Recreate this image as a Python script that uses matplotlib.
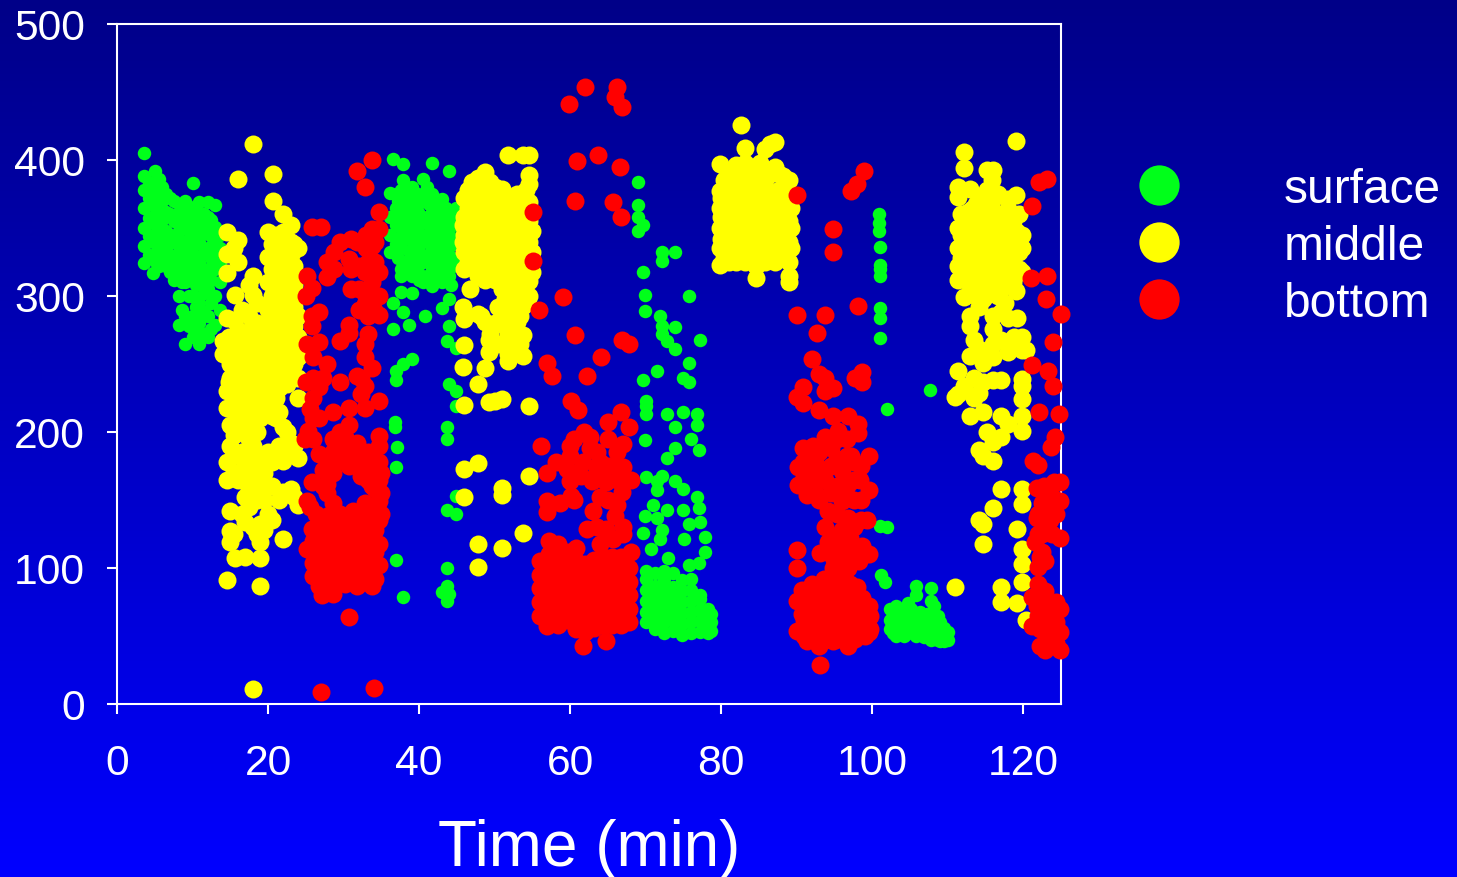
"""Fish depth over time, replotted from the slide."""

import numpy as np
import matplotlib
matplotlib.use("Agg")
import matplotlib.pyplot as plt
from matplotlib.lines import Line2D

plt.rcParams["font.family"] = ["Liberation Sans", "DejaVu Sans"]

# every row is (minute, [depths read at that minute])
surface_early = [
    (3.6, [324, 337, 350, 365, 378, 388, 405]), (4.8, [317, 330, 345, 358, 370, 380]),
    (5, [392]), (5.6, [322, 335, 350, 365, 386]), (6.5, [322, 335, 348, 362, 375]),
    (7.5, [312, 326, 340, 355, 370]), (8.2, [279, 300, 318, 332, 348, 362]),
    (9, [265, 285, 310, 325, 340, 355, 370]), (10, [270, 285, 300, 315, 330, 345, 360, 383]),
    (10.9, [265, 280, 295, 310, 325, 340, 355, 369]), (12, [270, 285, 305, 320, 335, 350, 358, 369]),
    (13, [279, 300, 320, 330, 340, 351, 367]),
    (4.2, [330, 344, 357, 372, 384]), (5.2, [325, 338, 352, 364, 376]), (6, [328, 342, 356, 370, 380]),
    (7, [318, 330, 345, 360, 372]), (8.6, [290, 310, 325, 340, 355, 368]), (9.5, [278, 300, 318, 333, 348, 362]),
    (10.5, [272, 292, 308, 322, 338, 352, 366]), (11.5, [272, 288, 302, 318, 332, 346, 360]),
    (12.5, [276, 295, 312, 328, 344, 356]), (13.6, [290, 310, 325, 335, 345]),
]
surface_second = [
    (36.2, [332, 345, 358, 376]), (36.6, [276, 295, 401]), (36.8, [204, 207]), (37, [106, 174, 238, 245]),
    (37.1, [189]), (37.6, [303, 315, 320, 335, 350, 365, 378]), (37.9, [79, 250, 288, 397, 385]),
    (38.7, [279]), (39, [254, 302, 315, 328, 342, 355, 368, 380]), (40.5, [310, 325, 340, 355, 370, 386]),
    (40.8, [285]), (41.7, [307, 320, 335, 350, 365, 375, 398]), (43, [82, 291, 310, 325, 340, 355, 371]),
    (43.7, [76, 87, 100, 143, 195, 204, 267]), (44, [81, 235, 278, 298, 315, 330, 345, 360, 392]),
    (44.9, [140, 153, 219, 230, 262, 325, 340, 355, 365]),
    (36.9, [338, 352, 365, 375]), (38.2, [325, 342, 358, 372]), (39.8, [318, 335, 348, 362, 375]),
    (41, [315, 330, 345, 358, 372, 380]), (42.4, [312, 328, 342, 358, 368]), (43.5, [318, 335, 350, 365]),
    (44.5, [322, 338, 352, 362]), (45.5, [330, 345, 358]),
    (37.2, [328, 343, 358, 370]), (38.6, [318, 333, 349, 364, 376]), (39.4, [322, 336, 349, 362, 374]),
    (40, [312, 330, 345, 358]), (41.3, [310, 325, 340, 352, 368]), (42, [315, 330, 345, 358, 372]),
    (42.8, [318, 332, 348, 362]), (44.2, [308, 322, 338, 352]),
]
surface_third = [
    (69, [348, 358, 367, 384]), (69.7, [126, 238, 318, 352]), (69.9, [138, 194, 289, 301]),
    (70, [167, 213, 219, 223]), (70.7, [114]), (71, [146]), (71.5, [137, 164, 157, 245]),
    (71.9, [121, 285]), (72.2, [128, 168, 272, 278, 326, 332]), (72.8, [143, 181, 213, 267]),
    (73, [107]), (73.9, [164, 188, 204, 261, 277, 332]), (75, [143, 158, 215, 240]),
    (75.1, [121]), (75.8, [102, 132, 237, 251, 300]), (76, [195]), (76.8, [152, 205, 213]),
    (77, [104, 144, 187]), (77.2, [134, 268]), (77.8, [112, 123]),
    (70, [60, 68, 76, 84, 92, 98]), (71.2, [55, 63, 71, 79, 87, 96]), (72.4, [52, 60, 68, 76, 84, 92, 98]),
    (73.6, [54, 62, 70, 78, 86, 96]), (74.8, [51, 59, 67, 75, 83, 91]), (76, [52, 60, 68, 76, 84, 92]),
    (77.2, [53, 61, 69, 77, 80]), (78.2, [52, 58, 64, 70]), (78.7, [54, 60, 66]),
]
surface_fourth = [
    (100.9, [354, 360]), (100.9, [348]), (101, [269, 284, 291, 315, 320, 323, 336]), (101, [131]),
    (102, [130, 217]), (101.2, [95]), (101.7, [90]), (107.7, [231]),
    (102.3, [55, 62, 70]), (103.2, [50, 57, 65, 72]), (104.2, [50, 57, 65]), (104.8, [52, 60, 68, 74]),
    (105.8, [50, 58, 66, 80, 87]), (106.8, [49, 56, 64]), (107.8, [47, 54, 62, 76, 85]),
    (108.7, [47, 54, 65]), (109.5, [46, 50, 56]), (110, [47, 53]),
    (102.8, [52, 60, 68]), (103.7, [54, 62, 69]), (105.2, [53, 61, 70]), (106.3, [52, 60, 68]),
    (107.3, [50, 58, 66]), (108.2, [48, 56, 64, 72]), (109, [46, 52, 60]),
]

middle_first = [
    (14, [257, 267]), (14.6, [91, 165, 178, 218, 230, 284, 317, 331, 347]),
    (15, [119, 127, 142, 190, 205, 240, 250]), (15.6, [301, 107]),
    (16, [165, 210, 222, 235, 248, 262, 275, 325, 341, 386]),
    (17, [108, 134, 152, 178, 200, 212, 225, 240, 255, 270]),
    (18, [11, 130, 165, 190, 205, 218, 232, 246, 260, 278, 301, 315, 412]),
    (19, [87, 107, 119, 132, 160, 175, 210, 225, 240, 255, 270]),
    (20, [140, 185, 220, 235, 250, 265, 280, 290, 310, 329, 347]),
    (20.7, [185, 370, 390]), (21, [210, 225, 240, 255, 270, 285, 300, 315, 330, 345]),
    (22, [121, 156, 179, 204, 245, 260, 275, 290, 305, 320, 335, 347, 360]),
    (23, [158, 192, 258, 272, 285, 300, 315, 330, 340, 352]),
    (24, [146, 181, 225, 240, 255, 270, 285, 300, 315, 335]),
    (14.8, [237, 255, 270]), (15.5, [125, 170, 183, 198, 228, 258, 270, 282, 335]),
    (16.5, [140, 172, 185, 215, 230, 243, 255, 268, 290]),
    (17.5, [145, 158, 172, 185, 195, 208, 220, 232, 248, 262, 285, 308]),
    (18.5, [125, 150, 165, 182, 200, 215, 228, 240, 252, 265, 280, 295]),
    (19.5, [128, 150, 170, 182, 215, 230, 245, 260, 275]),
    (20.5, [135, 160, 178, 212, 228, 242, 258, 272, 300, 320, 338]),
    (21.5, [150, 190, 215, 232, 250, 265, 280, 295, 310, 322, 338]),
    (22.5, [185, 200, 235, 252, 268, 282, 298, 312, 328, 342]),
    (23.5, [152, 190, 250, 265, 278, 292, 308, 322, 338]),
]
middle_second = [
    (45.8, [248, 292, 340, 352]), (46, [152, 173, 220, 264, 283, 320, 332, 345, 358, 372]),
    (46.8, [305]), (47, [330, 345, 360, 384]), (47.8, [101, 118, 177, 235, 287, 315, 330, 345, 360, 375, 387]),
    (48.7, [247, 281, 312, 328, 345, 360, 375, 391]), (49.2, [222, 259, 268]),
    (50, [223, 280, 312, 325, 340, 355, 370, 380]), (51, [115, 154, 159, 224, 285, 305, 318, 332, 345, 360, 379]),
    (51.8, [252, 257, 272, 290, 305, 320, 335, 350, 365, 404]), (53, [281, 295, 310, 325, 340, 355, 375]),
    (53.8, [126, 256, 271, 293, 300, 320, 340, 360, 404]), (54.6, [168, 219, 300, 311, 325, 340, 355, 369, 382, 389, 404]),
    (46.5, [325, 338, 350, 365, 378]), (47.4, [322, 338, 352, 368, 380]), (48.2, [285, 322, 338, 352, 368, 382]),
    (49.4, [272, 320, 333, 348, 365, 384]), (50.5, [265, 292, 318, 332, 348, 362, 375]),
    (51.4, [278, 298, 312, 328, 342, 358, 372]), (52.4, [262, 280, 298, 315, 330, 345, 360, 372]),
    (53.4, [265, 285, 305, 318, 332, 348, 365]), (54.2, [310, 330, 348, 362, 378]), (54.9, [318, 332, 348, 362]),
]
middle_third = [
    (79.9, [323, 335, 350, 365, 377, 397]), (81, [325, 338, 352, 368, 382, 392]),
    (82, [325, 340, 355, 370, 385, 396]), (82.6, [426]), (83.2, [325, 340, 355, 370, 385, 398, 409]),
    (84.6, [313, 322, 335, 350, 365, 380, 395]), (85.8, [325, 340, 355, 370, 385, 408]),
    (86.5, [328, 345, 360, 375, 390, 412]), (87.1, [325, 340, 355, 370, 395, 413]),
    (88.2, [328, 342, 358, 372, 388]), (89, [310, 315, 325, 340, 355, 370, 385]), (89.3, [335, 350, 365]),
    (80.4, [328, 342, 358, 372, 385]), (81.5, [330, 345, 360, 375, 388]), (82.6, [332, 348, 362, 378, 392]),
    (83.8, [328, 345, 362, 378, 392]), (85.2, [328, 342, 358, 372, 388, 398]), (86, [332, 348, 362, 378, 392]),
    (87.6, [332, 348, 362, 378, 390]), (88.6, [335, 350, 365, 378]), (80, [342, 358, 372]),
]
middle_fourth = [
    (111, [86, 226]), (111.3, [228, 245, 312, 322, 335, 350, 373, 380]), (112.2, [234, 299, 320, 340, 355, 394, 406]),
    (113, [212, 256, 278, 285, 315, 330, 345, 379]), (113.2, [364]),
    (114.2, [135, 187, 229, 261, 292, 310, 325, 340, 355]), (114.7, [118, 132, 182, 215, 237, 251]),
    (115.2, [200, 301, 318, 332, 348, 362, 378, 393]), (116, [144, 179, 193, 238, 276, 393]),
    (117, [75, 86, 158, 196, 212, 238, 268, 288, 305, 320, 335, 350]), (118, [206, 259, 284, 320, 338, 352, 364, 371]),
    (119, [304, 318, 332, 348, 374, 414]), (119.2, [74, 129, 284]),
    (119.9, [90, 103, 114, 147, 158, 201, 212, 224, 234, 239, 260, 270, 318, 335, 345]), (120.3, [62, 260]),
    (111.8, [315, 328, 345, 360, 378]), (112.7, [310, 325, 340, 350, 362]), (113.7, [300, 320, 335, 350, 368]),
    (114.7, [298, 315, 330, 345, 360, 372]), (115.8, [310, 325, 340, 355, 370, 385]),
    (116.6, [300, 315, 328, 345, 360, 375]), (117.6, [295, 312, 328, 342, 358]), (118.6, [310, 325, 340, 355]),
    (119.5, [320, 332, 345, 360]), (116, [255, 265, 285]), (113.5, [225, 240, 268]), (118.8, [265, 270]),
]

bottom_first = [
    (24.9, [195]), (25, [237, 300]), (25.2, [149, 114, 265, 315]), (25.3, [201]), (25.6, [145, 217]),
    (25.8, [129, 163, 285, 278, 306, 351]), (26, [94, 104, 120, 255]), (26.8, [87, 108, 135, 184, 210, 233, 266, 288]),
    (27, [9, 351]), (27.2, [80, 98, 115, 130]), (27.8, [162, 175, 250, 314, 325]),
    (28.6, [81, 100, 115, 130, 148, 170, 185, 195, 215]), (29.5, [95, 110, 125, 140, 190, 200, 237, 267, 340]),
    (30.7, [64, 98, 112, 128, 175, 188, 205, 218, 279, 273, 327]), (31.8, [87, 105, 120, 135, 180, 192, 241, 340, 392]),
    (32.9, [100, 115, 130, 148, 172, 218, 234, 265, 255, 294, 318, 380]), (33.8, [87, 102, 120, 135, 160, 178, 247, 310, 337, 349, 400]),
    (34.7, [102, 118, 135, 149, 165, 178, 190, 197, 223, 286, 300, 318, 349, 362]),
    (34, [12]), (26.4, [112, 125, 140]), (27.8, [90, 105, 120, 138, 155]), (29, [88, 103, 118, 135, 178]),
    (30.2, [88, 105, 120, 135, 182, 196]), (31.2, [92, 110, 125, 142, 185]),
    (32.3, [95, 108, 125, 140, 168, 182, 228, 240]), (33.3, [92, 110, 125, 142, 165, 185, 272, 285, 305, 325]),
    (34.2, [92, 112, 128, 142, 158, 172, 325, 340]), (27.3, [160, 172, 240]), (31, [305, 320, 342]),
    (32, [290, 305, 322]), (33, [300, 335, 345]), (34, [290, 325]), (28.8, [320, 332]),
    (35, [140, 155, 170]), (26, [195, 210, 225, 240]),
]
bottom_second = [
    (55.1, [326, 362]), (55.9, [290]), (56.2, [190]), (57, [57, 141, 149, 170, 251]), (57.6, [241]),
    (58.1, [178]), (58.6, [148]), (59.1, [299]), (59.6, [173]), (59.9, [441]), (60, [164, 182, 190]),
    (60.1, [153, 223]), (60.7, [271, 370]), (60.9, [399]), (61, [216]), (61.7, [43, 178]), (61.9, [200]),
    (62, [454]), (62.2, [129, 241]), (62.6, [188, 196]), (62.9, [164]), (63, [142]), (63.7, [404]),
    (64, [118, 152, 178]), (64.1, [255]), (64.8, [46, 129, 163]), (65, [195, 207]), (65.7, [121, 369]),
    (66, [138, 446]), (66.2, [146, 185, 454]), (66.6, [395]), (66.8, [215, 358]), (66.9, [156, 268, 439]),
    (67, [125, 130, 174, 191]), (67.8, [204, 265]), (68, [112, 165]),
    (56, [65, 75, 85, 95, 105]), (57.2, [60, 70, 80, 90, 100, 110, 120]), (58.4, [58, 68, 78, 88, 98, 108, 118]),
    (59.6, [62, 72, 82, 92, 102, 112]), (60.8, [55, 65, 75, 85, 95, 105, 115]), (62, [53, 63, 73, 83, 93, 103]),
    (63.2, [56, 66, 76, 86, 96, 106]), (64.4, [58, 68, 78, 88, 98, 108]), (65.6, [58, 68, 78, 88, 98, 108]),
    (66.8, [58, 68, 78, 88, 98, 108]), (67.8, [60, 70, 80, 90, 100]),
    (60.5, [150, 170, 195]), (63.5, [130, 172, 185]), (65, [150, 175]), (66.2, [165, 175]), (61.5, [168]),
]
bottom_third = [
    (90, [54, 76, 100, 113, 226, 286, 374]), (90.2, [161, 174]), (90.9, [188, 221, 233]), (91.4, [46, 60, 154]),
    (91.8, [171, 66, 78]), (92, [254]), (92.2, [190]), (92.7, [154, 273]), (92.9, [243]), (93, [43, 55, 68, 80, 216]),
    (93.1, [29, 111]), (93.8, [90, 130, 165, 196, 230, 240, 286]), (94.2, [48, 60, 72, 84, 119, 142]),
    (94.8, [100, 212, 232, 332, 349]), (95.5, [48, 60, 72, 84, 124, 201]), (96, [92, 149, 171]),
    (96.8, [43, 55, 68, 80, 100, 137, 212]), (97.2, [377, 182]), (97.7, [48, 60, 72, 84, 116, 240]),
    (98, [382]), (98.1, [199, 206, 293]), (98.4, [165]), (98.7, [52, 65, 78, 116, 237, 244]), (98.9, [392]),
    (99.3, [135]), (99.6, [53, 72, 110, 157, 182]),
    (90.7, [54, 66, 76, 84]), (91, [50, 62, 72, 82]), (92, [48, 58, 70, 82, 88]), (92.5, [50, 62, 74, 86]),
    (93.6, [48, 60, 72, 84, 92]), (94.8, [46, 58, 70, 82, 92]), (95.9, [50, 62, 74, 86]),
    (96.4, [48, 60, 72, 84, 92]), (97, [46, 58, 70, 88]), (98, [50, 62, 74, 86]), (99, [50, 60, 70]), (99.7, [55, 65]),
    (90.8, [165, 178]), (91.5, [165, 180]), (92.4, [165, 178]), (93, [150, 172, 185]), (94.6, [155, 175, 188]),
    (95.3, [140, 160, 180, 195]), (96.6, [125, 160, 182, 195]), (97.6, [130, 150, 165, 178]), (98.5, [135, 150, 175]),
    (94.8, [108, 120]), (96, [105, 115, 128]), (97, [108, 122]), (98.2, [105]),
]
bottom_fourth = [
    (121, [313]), (121.2, [57, 79, 249, 366]), (121.3, [179]), (121.6, [119]), (121.8, [72, 137, 159]),
    (122, [101, 176]), (122.1, [215, 384]), (122.2, [43, 55, 108]), (122.5, [125]), (122.9, [40, 52, 65, 83, 105]),
    (123, [298]), (123.2, [151, 315, 386]), (123.3, [245]), (123.7, [47, 60, 189]), (123.8, [125, 143]),
    (124, [234, 266]), (124.1, [163]), (124.2, [196]), (124.8, [213]), (124.9, [40, 53, 70, 122, 149, 163]),
    (125, [287]),
    (122, [65, 88, 125, 140]), (122.8, [58, 75, 135, 160]), (123.5, [55, 68, 135, 145, 155]),
    (124.3, [45, 60, 75, 140, 150]), (122.5, [112, 148]), (124, [55]),
]

x_ticks = [0, 20, 40, 60, 80, 100, 120]
y_ticks = [0, 100, 200, 300, 400, 500]
series_labels = ["surface", "middle", "bottom"]
series_colors = ["#00ff1a", "#ffff00", "#ff0000"]


def flatten(*groups):
    """Turn (minute, [depths]) rows into two flat lists."""
    xs, ys = [], []
    for rows in groups:
        for minute, depths in rows:
            xs.extend([minute] * len(depths))
            ys.extend(depths)
    return xs, ys


fig = plt.figure(figsize=(14.57, 8.78), dpi=100)

# slide background, dark navy at the top to full blue at the bottom
bg = fig.add_axes([0, 0, 1, 1], zorder=0)
bg.imshow(np.linspace(0, 1, 256).reshape(-1, 1), aspect="auto",
          cmap=matplotlib.colors.LinearSegmentedColormap.from_list("slide", ["#000088", "#0000ff"]))
bg.axis("off")

ax = fig.add_axes([117 / 1457, 173 / 878, 944 / 1457, 680 / 878], zorder=1)
ax.patch.set_visible(False)

sx, sy = flatten(surface_early, surface_second, surface_third, surface_fourth)
mx, my = flatten(middle_first, middle_second, middle_third, middle_fourth)
bx, by = flatten(bottom_first, bottom_second, bottom_third, bottom_fourth)

ax.scatter(sx, sy, s=94, color=series_colors[0], linewidths=0, clip_on=False, zorder=3)
ax.scatter(mx, my, s=168, color=series_colors[1], linewidths=0, clip_on=False, zorder=4)
ax.scatter(bx, by, s=168, color=series_colors[2], linewidths=0, clip_on=False, zorder=5)

ax.set_xlim(0, 125)
ax.set_ylim(0, 500)
ax.set_xticks(x_ticks)
ax.set_yticks(y_ticks)
ax.tick_params(colors="white", labelsize=30.7, width=1.5, length=7)
ax.tick_params(axis="x", pad=21)
ax.tick_params(axis="y", pad=16)
for spine in ax.spines.values():
    spine.set_color("white")
    spine.set_linewidth(1.5)
ax.set_xlabel("Time (min)", color="white", fontsize=46)
ax.xaxis.set_label_coords(0.5, -0.168)

handles = [Line2D([], [], linestyle="none", marker="o", markersize=29, markeredgewidth=0, color=c)
           for c in series_colors]
ax.legend(handles, series_labels, loc="upper left", bbox_to_anchor=(1.078, 0.79), frameon=False,
          fontsize=34.5, labelcolor="white", labelspacing=0.25, handlelength=1.0,
          handletextpad=2.11, borderaxespad=0, borderpad=0)

fig.savefig("out.png", dpi=100)
